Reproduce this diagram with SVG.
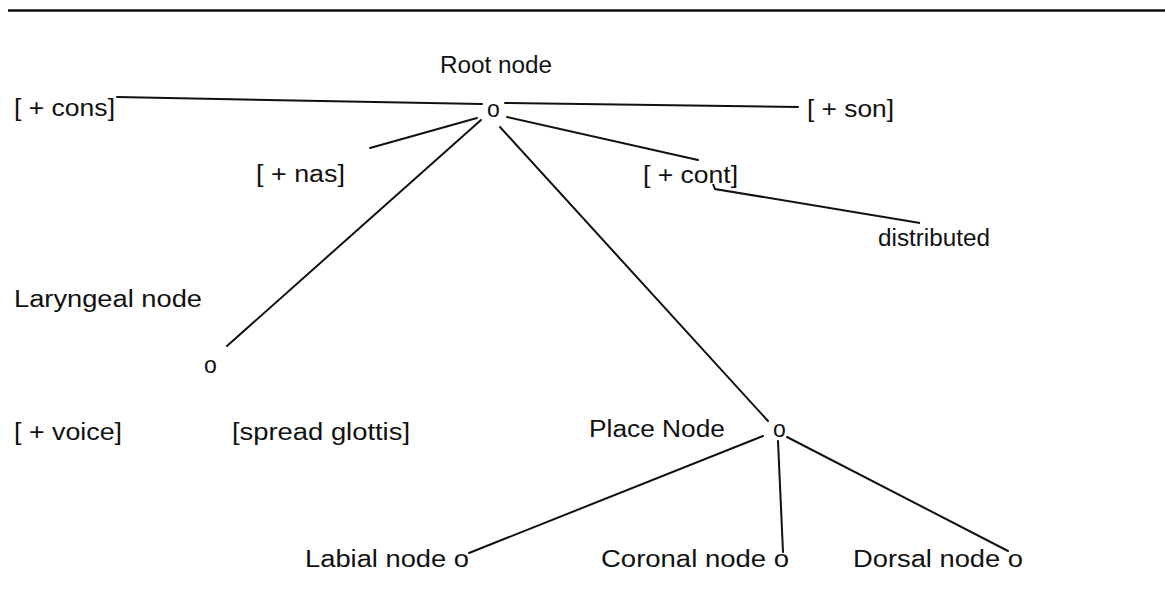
<svg xmlns="http://www.w3.org/2000/svg" width="1165" height="602" viewBox="0 0 1165 602">
<style>
text{font-family:"Liberation Sans",Arial,sans-serif;font-size:23px;fill:#111}
.c line{stroke:#111;stroke-width:2;stroke-linecap:round}
</style>
<rect width="1165" height="602" fill="#fff"/>
<line x1="8" y1="10.5" x2="1165" y2="10.5" stroke="#111" stroke-width="2.5"/>
<g class="c" id="connectors">
<line x1="117" y1="97" x2="482" y2="104"/>
<line x1="505" y1="103" x2="798" y2="107"/>
<line x1="370" y1="148" x2="477" y2="118"/>
<line x1="507" y1="117" x2="698" y2="160"/>
<polyline points="713,184 715,189 920,223" fill="none" stroke="#111" stroke-width="2"/>
<line x1="481" y1="120" x2="227" y2="346"/>
<line x1="500" y1="127" x2="768" y2="421"/>
<line x1="763" y1="436" x2="469" y2="553"/>
<line x1="778" y1="441" x2="783" y2="552"/>
<line x1="787" y1="437" x2="1008" y2="551"/>
</g>
<g id="root"><text x="440" y="73" textLength="112" lengthAdjust="spacingAndGlyphs">Root node</text><text x="487" y="117">o</text></g>
<g id="cons"><text x="14" y="116" textLength="101" lengthAdjust="spacingAndGlyphs">[ + cons]</text></g>
<g id="son"><text x="807" y="117" textLength="87" lengthAdjust="spacingAndGlyphs">[ + son]</text></g>
<g id="nas"><text x="256" y="182" textLength="89" lengthAdjust="spacingAndGlyphs">[ + nas]</text></g>
<g id="cont"><text x="643" y="183" textLength="95" lengthAdjust="spacingAndGlyphs">[ + cont]</text></g>
<g id="distributed"><text x="878" y="246" textLength="112" lengthAdjust="spacingAndGlyphs">distributed</text></g>
<g id="laryngeal"><text x="14" y="307" textLength="188" lengthAdjust="spacingAndGlyphs">Laryngeal node</text><text x="204" y="373">o</text></g>
<g id="voice"><text x="14" y="440" textLength="108" lengthAdjust="spacingAndGlyphs">[ + voice]</text></g>
<g id="spread"><text x="232" y="440" textLength="178" lengthAdjust="spacingAndGlyphs">[spread glottis]</text></g>
<g id="place"><text x="589" y="437" textLength="136" lengthAdjust="spacingAndGlyphs">Place Node</text><text x="773" y="437">o</text></g>
<g id="labial"><text x="305" y="567" textLength="164" lengthAdjust="spacingAndGlyphs">Labial node o</text></g>
<g id="coronal"><text x="601" y="567" textLength="188" lengthAdjust="spacingAndGlyphs">Coronal node o</text></g>
<g id="dorsal"><text x="853" y="567" textLength="170" lengthAdjust="spacingAndGlyphs">Dorsal node o</text></g>
</svg>
